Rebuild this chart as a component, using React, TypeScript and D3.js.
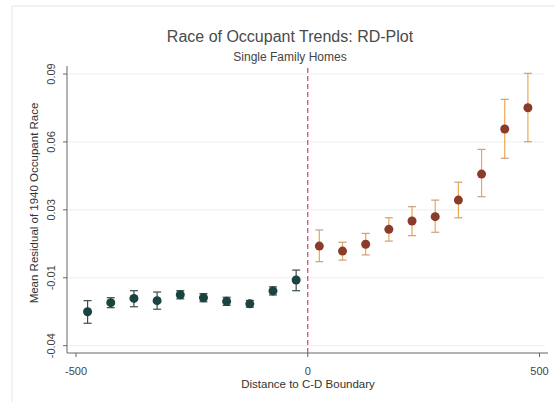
import React from "react";
import * as d3 from "d3";

const leftX = [-475, -425, -375, -325, -275, -225, -175, -125, -75, -25];
const leftY = [-0.02, -0.016, -0.0141, -0.0151, -0.0125, -0.0138, -0.0154, -0.0165, -0.0108, -0.006];
const leftHi = [-0.0151, -0.0138, -0.0107, -0.0113, -0.0107, -0.012, -0.0136, -0.015, -0.009, -0.0016];
const leftLo = [-0.0251, -0.0182, -0.0178, -0.0189, -0.0143, -0.0156, -0.0172, -0.018, -0.0126, -0.0107];

const rightX = [25, 75, 125, 175, 225, 275, 325, 375, 425, 475];
const rightY = [0.009, 0.0068, 0.0098, 0.0164, 0.0201, 0.022, 0.0293, 0.0408, 0.0607, 0.0701];
const rightHi = [0.0161, 0.0107, 0.0146, 0.0215, 0.0264, 0.0293, 0.0372, 0.0517, 0.0738, 0.0853];
const rightLo = [0.0021, 0.0028, 0.0051, 0.0112, 0.0136, 0.0151, 0.0215, 0.0308, 0.0478, 0.0551];

const yTicks = [-0.035, -0.005, 0.025, 0.055, 0.085];
const yTickLabels = ["-0.04", "-0.01", "0.03", "0.06", "0.09"];
const xTicks = [-500, 0, 500];

const W = 555;
const H = 402;
const FONT = "'Liberation Sans', Arial, sans-serif";

export default function App() {
  const x = d3.scaleLinear().domain([-500, 500]).range([76, 539.5]);
  const y = d3.scaleLinear().domain([-0.035, 0.085]).range([345.7, 74]);
  const axisX = 67;
  const axisY = 353;
  const right = 548;

  const leftColor = "#1b433f";
  const leftBar = "#3a4e4a";
  const rightColor = "#8a3b2a";
  const rightBar = "#eea752";

  const renderBars = (xs: number[], hi: number[], lo: number[], color: string, capColor: string) =>
    xs.map((v, i) => (
      <g key={"b" + i}>
        <line x1={x(v)} x2={x(v)} y1={y(hi[i])} y2={y(lo[i])} stroke={color} strokeWidth={1.2} />
        <line x1={x(v) - 4} x2={x(v) + 4} y1={y(hi[i])} y2={y(hi[i])} stroke={capColor} strokeWidth={1.2} />
        <line x1={x(v) - 4} x2={x(v) + 4} y1={y(lo[i])} y2={y(lo[i])} stroke={capColor} strokeWidth={1.2} />
      </g>
    ));

  return (
    <svg width={W} height={H} style={{ position: "absolute", left: 0, top: 0, background: "#fff" }}>
      <rect x={12} y={6} width={W} height={H - 4} fill="#fff" stroke="#e6e6e6" strokeWidth={1} />
      <text x={290} y={42} textAnchor="middle" fontFamily={FONT} fontSize={16} fill="#4a4a4a">
        Race of Occupant Trends: RD-Plot
      </text>
      <text x={290} y={61} textAnchor="middle" fontFamily={FONT} fontSize={12} fill="#444">
        Single Family Homes
      </text>
      {yTicks.map((t, i) => (
        <g key={"yt" + i}>
          <line x1={axisX} x2={545} y1={y(t)} y2={y(t)} stroke="#eeeeee" strokeWidth={1} />
          <line x1={axisX - 4} x2={axisX} y1={y(t)} y2={y(t)} stroke="#666" strokeWidth={1} />
          <text
            transform={`translate(${axisX - 12},${y(t)}) rotate(-90)`}
            textAnchor="middle"
            fontFamily={FONT}
            fontSize={11}
            fill="#444"
          >
            {yTickLabels[i]}
          </text>
        </g>
      ))}
      {xTicks.map((t) => (
        <g key={"xt" + t}>
          <line x1={x(t)} x2={x(t)} y1={axisY} y2={axisY + 4} stroke="#666" strokeWidth={1} />
          <text x={x(t)} y={axisY + 22} textAnchor="middle" fontFamily={FONT} fontSize={11} fill="#444">
            {t}
          </text>
        </g>
      ))}
      <line x1={axisX} x2={axisX} y1={66} y2={axisY} stroke="#666" strokeWidth={1} />
      <line x1={axisX} x2={right} y1={axisY} y2={axisY} stroke="#666" strokeWidth={1} />
      <line x1={x(0)} x2={x(0)} y1={68} y2={axisY} stroke="#c8466a" strokeWidth={1.2} strokeDasharray="5,3" />
      {renderBars(leftX, leftHi, leftLo, leftBar, leftBar)}
      {renderBars(rightX, rightHi, rightLo, rightBar, "#c8a080")}
      {leftX.map((v, i) => (
        <circle key={"l" + i} cx={x(v)} cy={y(leftY[i])} r={4.5} fill={leftColor} />
      ))}
      {rightX.map((v, i) => (
        <circle key={"r" + i} cx={x(v)} cy={y(rightY[i])} r={4.5} fill={rightColor} />
      ))}
      <text
        transform={`translate(38,203) rotate(-90)`}
        textAnchor="middle"
        fontFamily={FONT}
        fontSize={11.5}
        fill="#333"
      >
        Mean Residual of 1940 Occupant Race
      </text>
      <text x={308} y={388} textAnchor="middle" fontFamily={FONT} fontSize={11.5} fill="#333">
        Distance to C-D Boundary
      </text>
    </svg>
  );
}
